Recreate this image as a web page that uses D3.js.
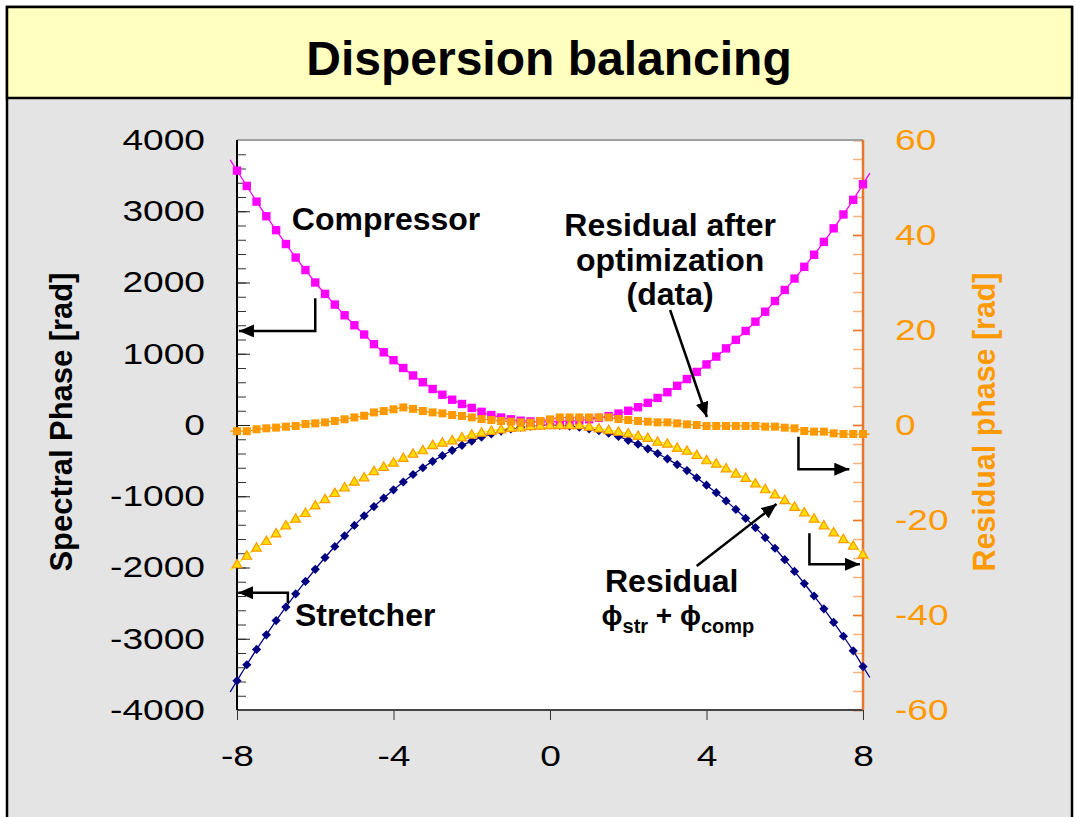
<!DOCTYPE html>
<html>
<head>
<meta charset="UTF-8">
<script src="https://d3js.org/d3.v7.min.js"></script>
<title>Dispersion balancing</title>
<style>
    body{margin:0;background:#fff;}
    text{font-family:"Liberation Sans",Arial,sans-serif;}
</style>
</head>
<body>
<div id="container"></div>
<script>
    // data (x step 0.25)
    var xVals=[-8,-7.75,-7.5,-7.25,-7,-6.75,-6.5,-6.25,-6,-5.75,-5.5,-5.25,-5,-4.75,-4.5,-4.25,-4,-3.75,-3.5,-3.25,-3,-2.75,-2.5,-2.25,-2,-1.75,-1.5,-1.25,-1,-0.75,-0.5,-0.25,0,0.25,0.5,0.75,1,1.25,1.5,1.75,2,2.25,2.5,2.75,3,3.25,3.5,3.75,4,4.25,4.5,4.75,5,5.25,5.5,5.75,6,6.25,6.5,6.75,7,7.25,7.5,7.75,8]
    // left axis [rad]
    var compressor=[3570,3355,3135,2930,2735,2540,2350,2175,2000,1840,1690,1540,1400,1270,1135,1020,910,800,695,600,505,425,355,295,240,185,140,105,80,60,50,45,45,50,55,65,80,100,125,160,200,250,310,380,460,550,645,745,850,960,1075,1195,1320,1450,1590,1740,1895,2055,2220,2390,2570,2760,2955,3160,3380]
    var stretcher=[-3590,-3365,-3150,-2945,-2745,-2555,-2370,-2195,-2025,-1860,-1705,-1555,-1410,-1275,-1145,-1025,-910,-800,-695,-600,-510,-430,-355,-285,-225,-170,-125,-85,-55,-30,-15,-5,0,-5,-15,-30,-55,-80,-115,-160,-215,-270,-335,-400,-475,-555,-640,-740,-845,-950,-1065,-1185,-1310,-1440,-1580,-1730,-1890,-2055,-2225,-2400,-2580,-2770,-2965,-3170,-3390]
    // right axis [rad]
    var residualSum=[-29.3,-27.5,-25.8,-24.4,-22.8,-21.1,-19.7,-18.5,-16.9,-15.6,-14.3,-13.1,-11.9,-11.0,-9.7,-8.8,-7.9,-6.9,-6.0,-5.3,-4.2,-3.7,-3.2,-2.6,-2.0,-1.6,-1.2,-0.9,-0.6,-0.5,-0.2,-0.1,0,0,0,0,-0.35,-0.7,-1.05,-1.4,-1.75,-2.25,-2.7,-3.5,-3.9,-4.8,-5.4,-6.3,-7.4,-8.1,-9.1,-10.2,-11.1,-12.3,-13.5,-14.6,-15.8,-17.2,-18.4,-19.7,-21.1,-22.6,-24.0,-25.4,-27.2]
    var residualOpt=[-1.3,-1.3,-0.9,-0.7,-0.55,-0.35,-0.2,0.2,0.35,0.55,0.85,1.2,1.6,1.95,2.65,2.95,3.3,3.7,3.4,2.95,2.65,2.45,2.1,1.9,1.6,1.25,1.05,0.85,0.7,0.55,0.5,0.84,1.19,1.6,1.6,1.6,1.6,1.6,1.6,1.26,1.05,0.84,0.7,0.56,0.56,0.35,0.14,0,-0.21,-0.2,-0.2,-0.2,-0.2,-0.2,-0.35,-0.35,-0.56,-0.7,-1.26,-1.4,-1.4,-1.75,-1.9,-1.9,-1.9]

    var xTicks=[-8,-4,0,4,8]
    var leftTicks=[-4000,-3000,-2000,-1000,0,1000,2000,3000,4000]
    var rightTicks=[-60,-40,-20,0,20,40,60]

    var width=1076,height=817,margin={left:237,top:140,right:213,bottom:107}
    var g_width=width-margin.left-margin.right,
        g_height=height-margin.top-margin.bottom

    var scale_x=d3.scaleLinear().domain([-8,8]).range([0,g_width])
    var scale_y=d3.scaleLinear().domain([-4000,4000]).range([g_height,0])
    var scale_y2=d3.scaleLinear().domain([-60,60]).range([g_height,0])
    var plain=function(d){return String(d)}   // "-4000", no comma, plain hyphen

    var svg=d3.select('#container').append('svg')
        .attr('width',width).attr('height',height)

    // frame + banner
    svg.append('rect').attr('x',7).attr('y',7).attr('width',1065).attr('height',830)
        .attr('fill','#e4e4e4').attr('stroke','#000').attr('stroke-width',2.5)
    svg.append('rect').attr('x',7).attr('y',7).attr('width',1065).attr('height',91)
        .attr('fill','#ffffc0').attr('stroke','#000').attr('stroke-width',2.5)
    svg.append('text').text('Dispersion balancing')
        .attr('x',549).attr('y',75).attr('text-anchor','middle')
        .attr('font-size',48).attr('font-weight','bold')

    var g=svg.append('g').attr('transform',"translate("+margin.left+","+margin.top+")")
    g.append('rect').attr('width',g_width).attr('height',g_height).attr('fill','#fff')

    // stretch tick labels a bit wider like the original
    function stretch(sel,k){
        sel.each(function(){
            var w=this.getComputedTextLength()
            d3.select(this).attr('textLength',w*k).attr('lengthAdjust','spacingAndGlyphs')
        })
    }

    // left axis
    g.append('g').call(d3.axisLeft(scale_y).tickValues(d3.range(-4000,4001,200)).tickSize(-9).tickFormat(''))
        .call(function(a){a.selectAll('line').attr('stroke','#333');a.select('.domain').remove()})
    var yAxisL=g.append('g').call(d3.axisLeft(scale_y).tickValues(leftTicks).tickFormat(plain).tickSizeInner(-13).tickSizeOuter(0).tickPadding(32))
    yAxisL.selectAll('line').attr('stroke','#222')
    yAxisL.select('.domain').remove()
    yAxisL.selectAll('text').attr('font-size',29).attr('fill','#000').attr('font-family','"Liberation Sans",Arial,sans-serif')
    stretch(yAxisL.selectAll('text'),1.28)

    // right axis
    g.append('g').attr('transform','translate('+g_width+',0)')
        .call(d3.axisRight(scale_y2).tickValues(d3.range(-60,61,4)).tickSize(-10).tickFormat(''))
        .call(function(a){a.selectAll('line').attr('stroke','#f7b27e').attr('stroke-width',1.5);a.select('.domain').remove()})
    var yAxisR=g.append('g').attr('transform','translate('+g_width+',0)')
        .call(d3.axisRight(scale_y2).tickValues(rightTicks).tickFormat(plain).tickSizeInner(-10).tickSizeOuter(0).tickPadding(32))
    yAxisR.selectAll('line').attr('stroke','#e8762d').attr('stroke-width',1.5)
    yAxisR.select('.domain').remove()
    yAxisR.selectAll('text').attr('font-size',29).attr('fill','#ff9900').attr('font-family','"Liberation Sans",Arial,sans-serif')
    stretch(yAxisR.selectAll('text'),1.28)

    // bottom axis
    var xAxis=g.append('g').attr('transform','translate(0,'+g_height+')')
        .call(d3.axisBottom(scale_x).tickValues(xTicks).tickFormat(plain).tickSize(10).tickPadding(25))
    xAxis.selectAll('line').attr('stroke','#333')
    xAxis.select('.domain').remove()
    xAxis.selectAll('text').attr('font-size',29).attr('fill','#000').attr('font-family','"Liberation Sans",Arial,sans-serif')
    stretch(xAxis.selectAll('text'),1.28)

    // plot borders
    g.append('line').attr('x1',0).attr('x2',g_width).attr('y1',0).attr('y2',0).attr('stroke','#a0a0a0').attr('stroke-width',2)
    g.append('line').attr('x1',0).attr('x2',g_width).attr('y1',g_height).attr('y2',g_height).attr('stroke','#444').attr('stroke-width',2)
    g.append('line').attr('x1',0).attr('x2',0).attr('y1',0).attr('y2',g_height).attr('stroke','#000').attr('stroke-width',2)
    g.append('line').attr('x1',g_width).attr('x2',g_width).attr('y1',0).attr('y2',g_height).attr('stroke','#e8762d').attr('stroke-width',2.5)

    // axis titles
    svg.append('text').text('Spectral Phase [rad]')
        .attr('transform','translate(72,422) rotate(-90)').attr('text-anchor','middle')
        .attr('font-size',31).attr('font-weight','bold').attr('textLength',299).attr('lengthAdjust','spacingAndGlyphs')
    svg.append('text').text('Residual phase [rad]')
        .attr('transform','translate(995,422) rotate(-90)').attr('text-anchor','middle').attr('fill','#ff9900')
        .attr('font-size',31).attr('font-weight','bold').attr('textLength',299).attr('lengthAdjust','spacingAndGlyphs')

    // series
    function makeLine(vals,sy){
        var pts=xVals.map(function(x,i){return [scale_x(x),sy(vals[i])]})
        var n=pts.length, k=0.7
        var first=[pts[0][0]+(pts[0][0]-pts[1][0])*k, pts[0][1]+(pts[0][1]-pts[1][1])*k]
        var last=[pts[n-1][0]+(pts[n-1][0]-pts[n-2][0])*k, pts[n-1][1]+(pts[n-1][1]-pts[n-2][1])*k]
        return d3.line().curve(d3.curveMonotoneX)([first].concat(pts,[last]))
    }
    var series=[
        {vals:stretcher,sy:scale_y,line:'#000080',shape:'M0,-4.6L4.6,0L0,4.6L-4.6,0Z',fill:'#000080',stroke:'none'},
        {vals:compressor,sy:scale_y,line:'#ff00ff',shape:'M-4.2,-4.2H4.2V4.2H-4.2Z',fill:'#ff00ff',stroke:'none'},
        {vals:residualSum,sy:scale_y2,line:'#ffee00',shape:'M0,-4.8L4.8,3.6L-4.8,3.6Z',fill:'#ffdd00',stroke:'#ff9900'},
        {vals:residualOpt,sy:scale_y2,line:'#ff9900',shape:'M-4,-4H4V4H-4Z',fill:'#ff9900',stroke:'none'}
    ]
    series.forEach(function(s){
        g.append('path').attr('d',makeLine(s.vals,s.sy)).attr('fill','none')
            .attr('stroke',s.line).attr('stroke-width',1.3)
    })
    series.forEach(function(s){
        g.append('g').selectAll('path').data(xVals).enter().append('path')
            .attr('d',s.shape)
            .attr('transform',function(d,i){return 'translate('+scale_x(d)+','+s.sy(s.vals[i])+')'})
            .attr('fill',s.fill).attr('stroke',s.stroke).attr('stroke-width',1.2)
    })

    // annotations (data coords, left axis units)
    svg.append('defs').append('marker').attr('id','arrow')
        .attr('markerUnits','userSpaceOnUse').attr('markerWidth',16).attr('markerHeight',13)
        .attr('refX',15).attr('refY',6.5).attr('orient','auto')
        .append('path').attr('d','M0,0L15,6.5L0,13Z').attr('fill','#000')
    var arrows=[
        [[-6,1780],[-6,1320],[-7.95,1320]],
        [[-6.7,-2500],[-6.7,-2355],[-7.97,-2355]],
        [[3.07,1614],[4.01,112]],
        [[6.35,-165],[6.35,-620],[7.65,-620]],
        [[6.63,-1520],[6.63,-1955],[7.92,-1955]],
        [[3.75,-1979],[5.79,-1109]]
    ]
    arrows.forEach(function(a){
        g.append('path').attr('d',d3.line().x(function(p){return scale_x(p[0])}).y(function(p){return scale_y(p[1])})(a))
            .attr('fill','none').attr('stroke','#000').attr('stroke-width',2.5).attr('marker-end','url(#arrow)')
    })
    var labels=[
        {t:'Compressor',x:-6.6,y:2737,a:'start'},
        {t:'Stretcher',x:-6.52,y:-2821,a:'start'},
        {t:'Residual after',x:3.07,y:2653,a:'middle'},
        {t:'optimization',x:3.07,y:2168,a:'middle'},
        {t:'(data)',x:3.07,y:1684,a:'middle'},
        {t:'Residual',x:3.11,y:-2350,a:'middle'}
    ]
    labels.forEach(function(l){
        g.append('text').text(l.t).attr('x',scale_x(l.x)).attr('y',scale_y(l.y))
            .attr('text-anchor',l.a).attr('font-size',32).attr('font-weight','bold')
    })
    var phi=g.append('text').attr('x',scale_x(3.27)).attr('y',scale_y(-2810))
        .attr('text-anchor','middle').attr('font-size',28).attr('font-weight','bold')
    phi.append('tspan').text('\u03d5')
    phi.append('tspan').text('str').attr('font-size',20).attr('dy',8)
    phi.append('tspan').text(' + \u03d5').attr('dy',-8)
    phi.append('tspan').text('comp').attr('font-size',20).attr('dy',8)
</script>
</body>
</html>
